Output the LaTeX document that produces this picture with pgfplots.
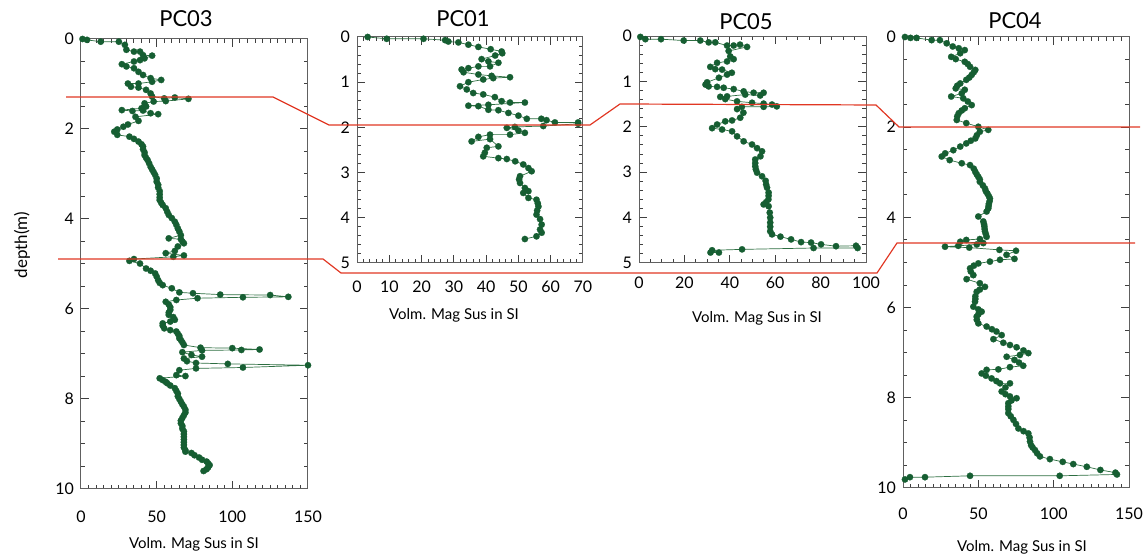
\documentclass[border=0pt]{standalone}
\usepackage{pgfplots}
\pgfplotsset{compat=1.18}
\usepackage{fontspec}
\setmainfont{Lato}

\definecolor{mkgreen}{RGB}{22,94,50}
\definecolor{lngreen}{RGB}{45,110,65}
\definecolor{corr}{RGB}{225,55,35}

\pgfplotsset{
  core/.style={
    scale only axis, y dir=reverse, anchor=south west,
    axis line style={gray!75!black, line width=0.5pt},
    every tick/.style={gray!50!black, line width=0.5pt},
    major tick length=4pt, minor tick length=2pt,
    tick label style={font=\fontsize{8}{9}\selectfont},
    /pgf/number format/assume math mode=true,
  },
  trace/.style={lngreen, line width=0.35pt, mark=*, mark size=1.6pt,
    mark options={draw=mkgreen, fill=mkgreen, line width=0.1pt}},
}

\begin{document}
\begin{tikzpicture}
\useasboundingbox (0,0) rectangle (574pt,277.5pt);

% PC03
\begin{axis}[core, at={(40.5pt,33pt)}, width=113.5pt, height=225pt,
  xmin=0, xmax=150, ymin=0, ymax=10,
  xtick={0,50,100,150}, minor x tick num=9,
  ytick={0,2,4,6,8,10}, minor y tick num=3,
  xticklabel style={yshift=-7.5pt}]
\addplot[trace] coordinates {
(1,0.0)(4,0.02)(13,0.06)(25,0.06)(29,0.13)(30,0.24)(35,0.28)(39,0.28)(41,0.36)(47,0.37)
(42,0.43)(39,0.47)(35,0.5)(27,0.56)(30,0.61)(35,0.65)(38,0.73)(41,0.8)(46,0.87)(53,0.91)
(47,0.95)(38,0.99)(31,0.99)(33,1.06)(38,1.08)(43,1.13)(46,1.21)(47,1.28)(55,1.32)(62,1.3)
(71,1.33)(56,1.38)(48,1.39)(42,1.43)(43,1.5)(40,1.54)(27,1.58)(34,1.6)(41,1.59)(46,1.65)
(51,1.67)(36,1.73)(38,1.82)(31,1.9)(28,1.95)(24,2.01)(22,2.06)(24,2.13)(32,2.17)(35,2.22)
(38,2.28)(40,2.34)(41,2.39)(41,2.45)(42,2.52)(42,2.58)(43,2.64)(44,2.69)(45,2.76)(46,2.84)
(47,2.9)(48,2.96)(49,3.02)(50,3.1)(50,3.17)(51,3.24)(51,3.3)(52,3.38)(52,3.45)(52,3.52)
(52,3.58)(53,3.64)(54,3.69)(56,3.76)(57,3.84)(58,3.91)(60,3.98)(62,4.06)(63,4.13)(64,4.21)
(65,4.28)(66,4.36)(58,4.43)(66,4.45)(67,4.5)(68,4.54)(64,4.61)(62,4.71)(56,4.76)(68,4.81)
(61,4.84)(35,4.89)(32,4.93)(39,4.99)(43,5.1)(46,5.15)(49,5.21)(50,5.28)(51,5.36)(52,5.42)
(54,5.47)(60,5.54)(65,5.63)
(74,5.65)(92,5.68)(125,5.69)(137,5.73)(107,5.74)(77,5.76)(63,5.8)(56,5.84)(58,5.9)(59,5.96)
(59,6.02)(58,6.08)(58,6.13)(61,6.18)(62,6.24)(59,6.28)(54,6.32)(54,6.37)(55,6.43)(59,6.47)
(63,6.5)(64,6.55)(65,6.6)(65,6.65)(66,6.69)(67,6.74)(68,6.8)(79,6.86)(100,6.87)(118,6.9)
(106,6.91)(80,6.92)(67,6.96)(73,7.02)(80,7.06)(68,7.1)(70,7.16)(76,7.2)(97,7.22)(150,7.25)
(107,7.3)(76,7.32)(65,7.36)(63,7.47)(69,7.49)(52,7.54)(54,7.58)(56,7.62)(57,7.65)(59,7.7)
(62,7.76)(63,7.82)(64,7.88)(64,7.94)(65,8.0)(66,8.06)(67,8.12)(68,8.17)(69,8.24)(69,8.3)
(68,8.36)(67,8.42)(66,8.48)(66,8.54)(67,8.6)(67,8.66)(68,8.72)(68,8.78)(68,8.84)(68,8.9)
(68,8.96)(68,9.02)(68,9.08)(69,9.14)(69,9.17)(73,9.2)(75,9.25)(78,9.3)(80,9.35)(83,9.39)
(84,9.43)(85,9.47)(84,9.52)(83,9.56)(81,9.6)
};
\end{axis}

% PC01
\begin{axis}[core, at={(178.5pt,146pt)}, width=113pt, height=113pt,
  xmin=0, xmax=70, ymin=0, ymax=5,
  xtick={0,10,...,70}, minor x tick num=4,
  ytick={0,1,...,5}, minor y tick num=4,
  xticklabel style={yshift=-5.5pt}]
\addplot[trace] coordinates {
(3.3,0.0)(9.2,0.04)(20.6,0.04)(27.3,0.07)(28.3,0.1)(31.4,0.12)(34.5,0.17)(37.6,0.22)(41.4,0.27)
(44.8,0.32)(45,0.36)(42.8,0.41)(38.6,0.49)(40.7,0.54)(43.8,0.57)(41.2,0.65)(37.6,0.65)(34.5,0.69)
(32.4,0.72)(33,0.78)(37.6,0.83)(41.7,0.86)(47.4,0.89)(42.2,0.91)(39.1,0.94)(34.5,1.0)(31.9,1.09)
(34,1.16)(36,1.24)(39.1,1.27)(42.7,1.33)(44.8,1.42)(47.4,1.45)(52,1.45)(40.7,1.5)(34.5,1.52)
(37.6,1.53)(40.7,1.61)(43.8,1.62)(46.9,1.68)(50,1.74)(52.6,1.81)(57.1,1.81)(58.7,1.84)(61.3,1.89)
(68.5,1.89)(68.5,1.92)(57.7,1.97)(48.9,1.99)(46.4,2.01)(50,2.07)(52,2.12)(47.4,2.16)(41.2,2.16)
(37.6,2.21)(35.5,2.31)(41.2,2.26)(43.8,2.42)(40.2,2.45)(39.6,2.56)(39.1,2.64)(43.8,2.68)(46.4,2.7)
(49,2.75)(51.5,2.82)(53.1,2.9)(54.1,2.97)(50.5,3.08)(50.2,3.15)(50.5,3.23)(52,3.34)(53.1,3.41)
(51.5,3.45)(53.1,3.56)(55.6,3.6)(56,3.68)(56.2,3.75)(55.8,3.84)(55.6,3.93)(56.7,4.03)(57.2,4.15)
(56.7,4.26)(57.2,4.33)(55.6,4.41)(52,4.47)
};
\end{axis}

% PC05
\begin{axis}[core, at={(319.5pt,146pt)}, width=113.5pt, height=113.5pt,
  xmin=0, xmax=100, ymin=0, ymax=5,
  xtick={0,20,...,100}, minor x tick num=3,
  ytick={0,1,...,5}, minor y tick num=4,
  xticklabel style={yshift=-3.5pt}]
\addplot[trace] coordinates {
(0.6,0.02)(2.8,0.07)(9.7,0.07)(19.7,0.1)(27,0.1)(30.7,0.14)(33.6,0.14)(38.8,0.21)(41.7,0.21)
(44.5,0.19)(47.6,0.24)(39.5,0.33)(40.2,0.45)(41.7,0.51)(38.8,0.56)(34.4,0.59)(31.4,0.68)(33.6,0.73)
(36.6,0.74)(40.9,0.81)(38.8,0.85)(35.2,0.92)(30,1.02)(29.3,1.07)(30.7,1.11)(34.4,1.12)(37.3,1.14)
(41.7,1.17)(46.1,1.22)(50.5,1.25)(54.9,1.25)(53.4,1.31)(46.8,1.29)(38.8,1.33)(35.8,1.34)(38,1.39)
(43.2,1.44)(49.8,1.47)(54.9,1.49)(58.6,1.51)(60.7,1.55)(54.9,1.56)(45.3,1.56)(43.2,1.61)(46,1.69)
(44.6,1.8)(41,1.86)(38,1.88)(34.4,1.95)(32.2,2.03)(36.6,2.06)(41,2.1)(43.2,2.21)(46.1,2.32)
(49.8,2.39)(52,2.47)(54.2,2.54)(53.5,2.65)(51.2,2.72)(51.2,2.8)(51.2,2.87)(51.5,2.94)(52,3.01)
(54.2,3.09)(55.8,3.19)(56,3.27)(56.4,3.34)(57.1,3.45)(57.1,3.52)(57,3.6)(56,3.66)(54.9,3.71)
(57.1,3.75)(57.6,3.89)(57.8,4.0)(57.8,4.11)
(57.8,4.2)(57.8,4.3)(58.6,4.37)(62.3,4.42)(67,4.48)(71.4,4.54)(75.8,4.55)(80.2,4.59)(86.8,4.63)
(95.6,4.62)(96.3,4.67)(76.9,4.67)(45.4,4.7)(32.2,4.72)(35.2,4.77)(31.5,4.77)
};
\end{axis}

% PC04
\begin{axis}[core, at={(451.5pt,33.5pt)}, width=113pt, height=225.5pt,
  xmin=0, xmax=150, ymin=0, ymax=10,
  xtick={0,50,100,150}, minor x tick num=9,
  ytick={0,2,4,6,8,10}, minor y tick num=3,
  xticklabel style={yshift=-6.5pt}]
\addplot[trace] coordinates {
(1.3,0.0)(5,0.02)(9,0.02)(19,0.07)(24.5,0.07)(29,0.14)(33,0.21)(37,0.25)(41,0.29)(38,0.36)
(32,0.44)(35,0.49)(41,0.55)(43,0.6)(44.5,0.66)(48,0.73)(47,0.78)(45.6,0.84)(44,0.9)(42,0.95)
(38,1.03)(36,1.08)
(35,1.14)(41,1.17)(39,1.25)(32,1.32)(40,1.36)(43,1.43)(45.6,1.51)(41,1.58)(39,1.63)(37,1.69)
(36,1.76)(35.7,1.84)(42,1.91)(50,1.99)(56.6,2.06)(51,2.1)(49,2.18)(48,2.25)(45,2.3)(42,2.36)
(38,2.43)(33.4,2.51)(28,2.58)(25.7,2.65)(31,2.73)(39,2.8)(44.5,2.84)(47,2.92)(48,2.99)(49,3.05)
(50,3.1)(51,3.16)(51,3.21)(53,3.29)(54.4,3.36)(55,3.42)(56,3.47)(57,3.53)(57.7,3.58)(57.5,3.64)
(57,3.7)(56.8,3.75)(56.6,3.8)(55.5,3.87)(50,3.98)(53.3,4.09)(53.8,4.15)(54,4.2)(54.2,4.26)
(54.4,4.31)(55,4.37)(55.5,4.43)(51,4.48)(42,4.5)(38,4.54)(53.3,4.57)(49,4.6)(36.7,4.63)(27.9,4.65)
(44,4.67)(64,4.72)(75,4.74)(68.7,4.83)(74,4.92)(64.4,4.94)(57.7,4.98)(50,5.02)(47,5.07)(44.5,5.13)
(45,5.2)(46.7,5.28)(42.2,5.37)(51,5.46)(54.4,5.54)(51,5.6)(48.9,5.65)(48,5.75)(48,5.81)(47.8,5.87)
(46.7,5.98)(50,6.04)(52.2,6.09)(50,6.15)(48.9,6.2)(49,6.27)(50,6.35)(55.5,6.42)(59,6.48)(62,6.53)
(65.5,6.61)(60,6.7)(66.6,6.78)(71,6.83)(75.4,6.88)(80,6.95)(83.2,7.01)(77.6,7.05)(68.8,7.09)
(74,7.16)(77,7.22)(79.8,7.29)(71,7.32)(63.3,7.37)(55.5,7.38)(52.2,7.46)(55,7.51)(58.8,7.57)
(62,7.63)(64.4,7.68)(71,7.68)(68,7.77)(65.5,7.86)(68,7.92)(71,7.97)(75.4,8.01)(72,8.06)(69.9,8.12)
(69.9,8.19)(69.9,8.25)(69.9,8.34)(71.5,8.41)(73.3,8.49)(75,8.58)(76.6,8.68)(80,8.74)(83.2,8.79)
(84,8.88)(84.3,8.97)(85,9.05)(86,9.1)(87.6,9.16)(89,9.23)(90.9,9.3)(97.5,9.36)(106,9.42)
(113,9.47)(122,9.53)(131,9.6)(141,9.66)(142,9.7)(104,9.73)(44.5,9.73)(14.6,9.76)(4.6,9.76)
(1.3,9.81)
};
\end{axis}

% titles and labels
\node[font=\fontsize{11}{13}\selectfont] at (93pt,268pt) {PC03};
\node[font=\fontsize{11}{13}\selectfont] at (231.5pt,268pt) {PC01};
\node[font=\fontsize{11}{13}\selectfont] at (373pt,266.5pt) {PC05};
\node[font=\fontsize{11}{13}\selectfont] at (507.5pt,267pt) {PC04};
\node[font=\fontsize{7.5}{9}\selectfont] at (97pt,5.5pt) {Volm. Mag Sus in SI};
\node[font=\fontsize{7.5}{9}\selectfont] at (227pt,120pt) {Volm. Mag Sus in SI};
\node[font=\fontsize{7.5}{9}\selectfont] at (378.5pt,118.5pt) {Volm. Mag Sus in SI};
\node[font=\fontsize{7.5}{9}\selectfont] at (511pt,4pt) {Volm. Mag Sus in SI};
\node[font=\fontsize{8.5}{10}\selectfont, rotate=90] at (11pt,155pt) {depth(m)};

% correlation lines
\draw[corr, line width=0.6pt] (33pt,229pt) -- (136.5pt,229pt) -- (164.5pt,215pt) -- (295pt,215pt)
  -- (310pt,225.5pt) -- (438pt,225pt) -- (449.5pt,214pt) -- (570pt,214pt);
\draw[corr, line width=0.6pt] (29pt,148pt) -- (161.5pt,148pt) -- (170.5pt,141pt) -- (438.5pt,141pt)
  -- (448.5pt,156pt) -- (567.5pt,156pt);
\end{tikzpicture}
\end{document}
